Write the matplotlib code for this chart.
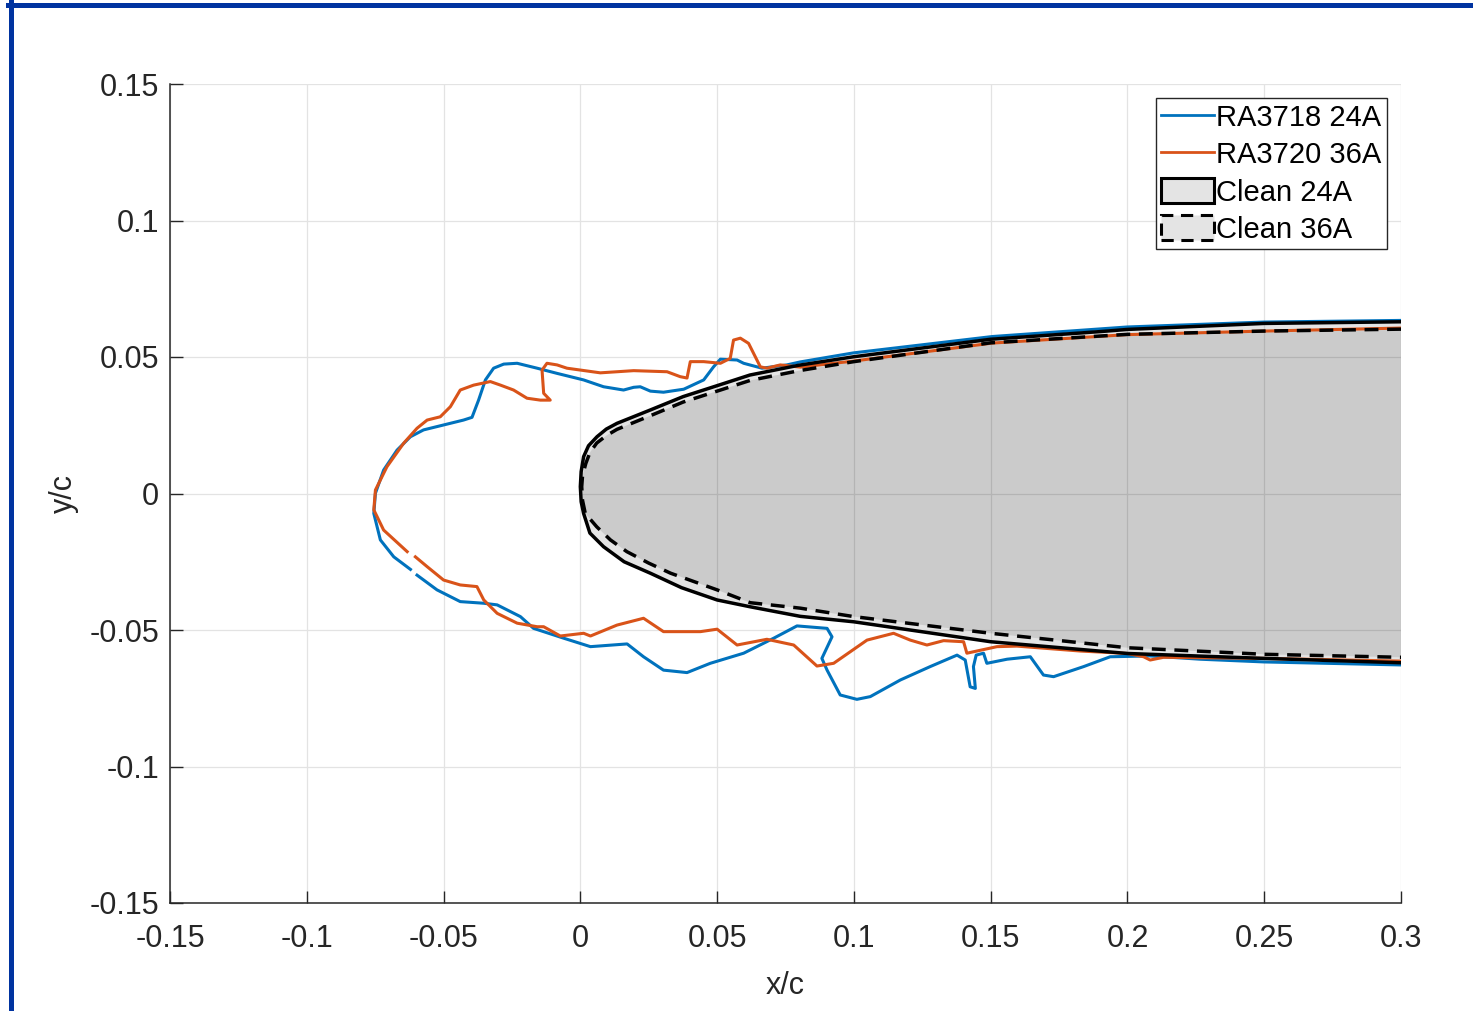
import numpy as np
import matplotlib.pyplot as plt
from matplotlib.patches import Patch
from matplotlib.lines import Line2D

plt.rcParams['font.family'] = ['Liberation Sans', 'DejaVu Sans']
plt.rcParams['axes.unicode_minus'] = False

# clean airfoils (upper TE -> LE -> lower TE)
clean24_x = [0.300, 0.250, 0.200, 0.190, 0.150, 0.100, 0.080, 0.062, 0.050, 0.0376,
             0.0256, 0.0134, 0.0095, 0.0061, 0.003, 0.0012, 0.0003, 0.0, 0.0003, 0.0012,
             0.0035, 0.0085, 0.016, 0.0256, 0.037, 0.050, 0.0621, 0.0804, 0.100, 0.150,
             0.200, 0.250, 0.300]
clean24_y = [0.0629, 0.0623, 0.0601, 0.0593, 0.0565, 0.0501, 0.0470, 0.0434, 0.0395, 0.0355,
             0.0306, 0.0257, 0.0236, 0.0208, 0.0175, 0.0135, 0.0080, 0.0025, -0.0030, -0.0073,
             -0.0145, -0.0195, -0.0250, -0.0292, -0.0345, -0.0390, -0.0415, -0.0450, -0.0470,
             -0.0543, -0.0586, -0.0604, -0.0620]

clean36_x = [0.300, 0.250, 0.200, 0.150, 0.100, 0.080, 0.062, 0.050, 0.0376, 0.0256,
             0.0134, 0.0095, 0.006, 0.0035, 0.002, 0.0008, 0.0005, 0.0008, 0.0018, 0.006,
             0.011, 0.017, 0.025, 0.033, 0.050, 0.0621, 0.0804, 0.100, 0.150, 0.200,
             0.250, 0.300]
clean36_y = [0.0602, 0.0595, 0.0583, 0.0552, 0.0483, 0.0450, 0.0414, 0.0375, 0.0335, 0.0285,
             0.0235, 0.0212, 0.0185, 0.0150, 0.0110, 0.0065, 0.0025, -0.0025, -0.0073, -0.0122,
             -0.0170, -0.0213, -0.0255, -0.0292, -0.0353, -0.0400, -0.0420, -0.0451, -0.0512,
             -0.0565, -0.0589, -0.0600]

# ice shapes (NaN = gap in the trace)
ra3718_x = [0.300, 0.250, 0.200, 0.1506, 0.0998, 0.0804, 0.0755, 0.0664, 0.0597, 0.0573,
            0.0512, 0.0487, 0.0451, 0.0378, 0.0304, 0.0256, 0.0219, 0.0195, 0.0158, 0.0085,
            0.0012, -0.0085, -0.0158, -0.0231, -0.0280, -0.0317, -0.0347, -0.0372, -0.0396,
            -0.0427, -0.0500, -0.0573, -0.0621, -0.0670, -0.0719, -0.0749, -0.0755, -0.0731,
            -0.0682, -0.0621, np.nan, -0.0597, -0.0524, -0.0439, -0.0353, -0.0304, -0.0219,
            -0.0171, -0.0061, 0.0037, 0.0171, 0.0231, 0.0304, 0.0390, 0.0475, 0.0597,
            0.0707, 0.0792, 0.0902, 0.0920, 0.0883, 0.0902, 0.0950, 0.1011, 0.1060,
            0.1170, 0.1279, 0.1377, 0.1407, 0.1425, 0.1444, 0.1437, 0.1447, 0.1474,
            0.1486, 0.1560, 0.1645, 0.1693, 0.1730, 0.1840, 0.1937, 0.2083, 0.2266,
            0.250, 0.300]
ra3718_y = [0.0634, 0.0628, 0.0610, 0.0575, 0.0515, 0.0482, 0.0471, 0.0459, 0.0477, 0.0489,
            0.0492, 0.0464, 0.0416, 0.0382, 0.0371, 0.0375, 0.0391, 0.0389, 0.0379, 0.0391,
            0.0416, 0.0440, 0.0459, 0.0477, 0.0474, 0.0459, 0.0416, 0.0342, 0.0279,
            0.0269, 0.0251, 0.0233, 0.0208, 0.0159, 0.0086, 0.0001, -0.0073, -0.0170,
            -0.0232, -0.0278, np.nan, -0.0299, -0.0353, -0.0396, -0.0402, -0.0408, -0.0451,
            -0.0494, -0.0530, -0.0561, -0.0551, -0.0598, -0.0647, -0.0656, -0.0622, -0.0585,
            -0.0530, -0.0485, -0.0494, -0.0525, -0.0604, -0.0647, -0.0738, -0.0754, -0.0744,
            -0.0683, -0.0634, -0.0592, -0.0610, -0.0708, -0.0714, -0.0634, -0.0592, -0.0585,
            -0.0622, -0.0607, -0.0598, -0.0665, -0.0671, -0.0634, -0.0598, -0.0595, -0.0607,
            -0.0617, -0.0628]

ra3720_x = [0.300, 0.250, 0.200, 0.1506, 0.0998, 0.0804, 0.0731, 0.0682, 0.0658, 0.0633,
            0.0615, 0.0585, 0.0560, 0.0548, 0.0512, 0.0451, 0.0402, 0.0390, 0.0365, 0.0317,
            0.0195, 0.0073, -0.0049, -0.0085, -0.0122, -0.0140, -0.0134, -0.0110, -0.0146,
            -0.0195, -0.0244, -0.0292, -0.0329, -0.0390, -0.0439, -0.0475, -0.0512, -0.0560,
            -0.0597, -0.0646, -0.0707, -0.0749, -0.0755, -0.0719, -0.0633, np.nan, -0.0603,
            -0.0560, -0.0500, -0.0439, -0.0378, -0.0353, -0.0304, -0.0231, -0.0158, -0.0134,
            -0.0073, 0.0012, 0.0037, 0.0134, 0.0231, 0.0304, 0.0439, 0.0500, 0.0573,
            0.0682, 0.0780, 0.0865, 0.0926, 0.1048, 0.1145, 0.1206, 0.1267, 0.1328,
            0.1401, 0.1413, 0.1523, 0.1596, 0.1827, 0.200, 0.2059, 0.2083, 0.2132,
            0.250, 0.300]
ra3720_y = [0.0606, 0.0595, 0.0582, 0.0551, 0.0485, 0.0463, 0.0471, 0.0459, 0.0464, 0.0514,
            0.0550, 0.0569, 0.0562, 0.0495, 0.0477, 0.0483, 0.0483, 0.0423, 0.0428, 0.0446,
            0.0450, 0.0442, 0.0459, 0.0471, 0.0477, 0.0452, 0.0367, 0.0342, 0.0342,
            0.0349, 0.0379, 0.0397, 0.0410, 0.0397, 0.0379, 0.0318, 0.0281, 0.0269,
            0.0239, 0.0184, 0.0098, 0.0013, -0.0060, -0.0134, -0.0213, np.nan, -0.0232,
            -0.0268, -0.0317, -0.0335, -0.0341, -0.0390, -0.0439, -0.0475, -0.0488, -0.0488,
            -0.0522, -0.0512, -0.0522, -0.0482, -0.0457, -0.0506, -0.0506, -0.0497, -0.0555,
            -0.0534, -0.0555, -0.0632, -0.0622, -0.0537, -0.0512, -0.0537, -0.0555, -0.0539,
            -0.0543, -0.0585, -0.0561, -0.0559, -0.0577, -0.0586, -0.0598, -0.0610, -0.0600,
            -0.0604, -0.0614]

ticks = [-0.15, -0.1, -0.05, 0, 0.05, 0.1, 0.15, 0.2, 0.25, 0.3]
yticks = [-0.15, -0.1, -0.05, 0, 0.05, 0.1, 0.15]

W, H = 1473, 1011
fig = plt.figure(figsize=(W / 100, H / 100), dpi=100)
ax = fig.add_axes([170 / W, 1 - 903 / H, 1231 / W, 819 / H])

blue = '#0072BD'
orange = '#D95319'
dark = '#262626'
dash = (0, (4.0, 2.5))

ax.fill(clean24_x, clean24_y, color='k', alpha=0.106, lw=0, zorder=1)
ax.fill(clean36_x, clean36_y, color='k', alpha=0.106, lw=0, zorder=1)
ax.plot(ra3718_x, ra3718_y, color=blue, lw=2.2, solid_joinstyle='round', zorder=2)
ax.plot(ra3720_x, ra3720_y, color=orange, lw=2.2, solid_joinstyle='round', zorder=2)
ax.plot(clean24_x, clean24_y, color='k', lw=2.5, solid_joinstyle='round', zorder=3)
ax.plot(clean36_x, clean36_y, color='k', lw=2.5, ls=dash, zorder=3)

ax.set_xlim(-0.15, 0.3)
ax.set_ylim(-0.15, 0.15)
ax.set_xticks(ticks)
ax.set_yticks(yticks)
ax.set_xticklabels(['{:g}'.format(t) for t in ticks])
ax.set_yticklabels(['{:g}'.format(t) for t in yticks])
ax.tick_params(direction='in', length=9, width=1, colors=dark, labelsize=22)
ax.tick_params(axis='x', pad=15)
ax.tick_params(axis='y', pad=8)
ax.grid(True, color='#e3e3e3', lw=0.9)
ax.set_axisbelow(True)
for s in ['top', 'right']:
    ax.spines[s].set_visible(False)
for s in ['left', 'bottom']:
    ax.spines[s].set_color(dark)
    ax.spines[s].set_linewidth(1.1)
ax.set_xlabel('x/c', fontsize=22, color=dark, labelpad=12)
ax.set_ylabel('y/c', fontsize=22, color=dark, labelpad=7)

handles = [
    Line2D([], [], color=blue, lw=2.0),
    Line2D([], [], color=orange, lw=2.0),
    Patch(facecolor='#e4e4e4', edgecolor='k', lw=2.2),
    Patch(facecolor='#e4e4e4', edgecolor='k', lw=2.2, ls=dash),
]
labels = ['RA3718 24A', 'RA3720 36A', 'Clean 24A', 'Clean 36A']
leg = ax.legend(handles, labels, loc='upper right', bbox_to_anchor=(0.9886, 0.9829),
                fontsize=21, fancybox=False, framealpha=1, edgecolor=dark,
                handlelength=1.8, handleheight=0.95, handletextpad=0.1,
                labelspacing=0.3, borderpad=0.18, borderaxespad=0)
leg.get_frame().set_linewidth(1.0)

# blue frame round the figure (top and left only, as in the image)
fig.add_artist(Line2D([8 / W, 1], [1 - 4.5 / H, 1 - 4.5 / H], transform=fig.transFigure,
                      color='#0033a0', lw=3.6))
fig.add_artist(Line2D([10.5 / W, 10.5 / W], [0, 1 - 2 / H], transform=fig.transFigure,
                      color='#0033a0', lw=3.6))

fig.savefig('out.png', dpi=100)
